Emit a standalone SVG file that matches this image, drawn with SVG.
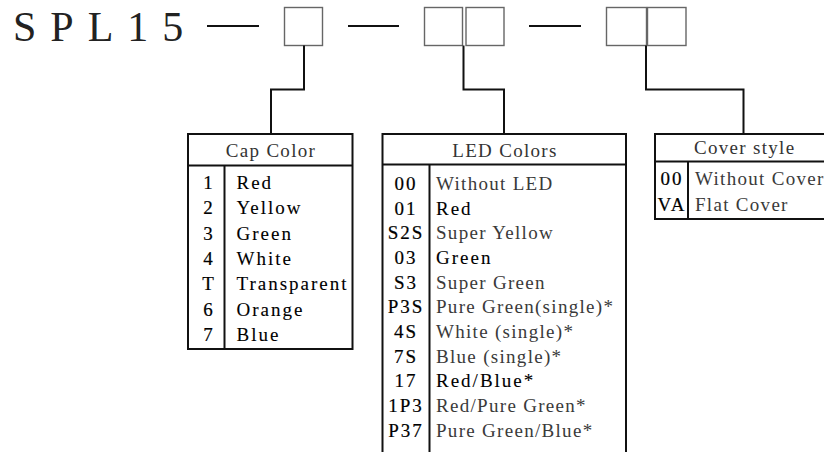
<svg xmlns="http://www.w3.org/2000/svg" width="824" height="452" viewBox="0 0 824 452">
<style>
text{font-family:"Liberation Serif","Times New Roman",serif;}
.title{font-size:42px;letter-spacing:14px;fill:#222;}
.box{fill:#fff;stroke:#666;stroke-width:1.4;}
.dash{stroke:#111;stroke-width:2;}
.conn{fill:none;stroke:#111;stroke-width:2;}
.tbl{fill:none;stroke:#111;stroke-width:2;}
.hd{font-size:19px;fill:#333;letter-spacing:1.3px;}
.lt{font-size:19px;fill:#3a3a3a;letter-spacing:1.3px;}
.dk{font-size:19px;fill:#000;letter-spacing:2px;stroke:#000;stroke-width:0.1;}
.cd{font-size:19px;fill:#000;letter-spacing:2px;text-anchor:middle;stroke:#000;stroke-width:0.2;}
.mid{text-anchor:middle;}
</style>
<rect width="824" height="452" fill="#fff"/>
<g id="title"><text class="title" x="13" y="41">SPL15</text></g>
<g id="dashes">
<line class="dash" x1="207" y1="26" x2="259" y2="26"/>
<line class="dash" x1="348" y1="26" x2="399" y2="26"/>
<line class="dash" x1="529" y1="26" x2="581" y2="26"/>
</g>
<g id="box-cap"><rect class="box" x="284.5" y="7.5" width="38" height="38"/></g>
<g id="box-led"><rect class="box" x="424.5" y="7.5" width="38" height="38"/><rect class="box" x="466" y="7.5" width="38" height="38"/></g>
<g id="box-cover"><rect class="box" x="606.5" y="7.5" width="40" height="38"/><rect class="box" x="647.5" y="7.5" width="38.5" height="38"/></g>
<g id="connectors">
<path class="conn" d="M304 45.5V89.5H271V134"/>
<path class="conn" d="M463.5 45.5V89.5H504V134"/>
<path class="conn" d="M646 45.5V89.5H743.5V134"/>
</g>
<g id="cap-color">
<rect class="tbl" x="188" y="134" width="164.5" height="215"/>
<line class="tbl" x1="188" y1="165.5" x2="352.5" y2="165.5"/>
<line class="tbl" x1="224.5" y1="165.5" x2="224.5" y2="349"/>
<text class="hd mid" x="271" y="157">Cap Color</text>
<text class="cd" x="209" y="189">1</text>
<text class="cd" x="209" y="214.3">2</text>
<text class="cd" x="209" y="239.6">3</text>
<text class="cd" x="209" y="264.9">4</text>
<text class="cd" x="209" y="290.2">T</text>
<text class="cd" x="209" y="315.5">6</text>
<text class="cd" x="209" y="340.8">7</text>
<text class="dk" x="236.5" y="189">Red</text>
<text class="dk" x="236.5" y="214.3">Yellow</text>
<text class="dk" x="236.5" y="239.6">Green</text>
<text class="dk" x="236.5" y="264.9">White</text>
<text class="dk" x="236.5" y="290.2">Transparent</text>
<text class="dk" x="236.5" y="315.5">Orange</text>
<text class="dk" x="236.5" y="340.8">Blue</text>
</g>
<g id="led-colors">
<path class="tbl" d="M382.5 460V134H626V460"/>
<line class="tbl" x1="382.5" y1="164.5" x2="626" y2="164.5"/>
<line class="tbl" x1="429.5" y1="164.5" x2="429.5" y2="460"/>
<text class="hd mid" x="505" y="157">LED Colors</text>
<text class="cd" x="406" y="190">00</text>
<text class="cd" x="406" y="214.7">01</text>
<text class="cd" x="406" y="239.3">S2S</text>
<text class="cd" x="406" y="264">03</text>
<text class="cd" x="406" y="288.7">S3</text>
<text class="cd" x="406" y="313.3">P3S</text>
<text class="cd" x="406" y="338">4S</text>
<text class="cd" x="406" y="362.7">7S</text>
<text class="cd" x="406" y="387.3">17</text>
<text class="cd" x="406" y="412">1P3</text>
<text class="cd" x="406" y="436.7">P37</text>
<text class="lt" x="436" y="190">Without LED</text>
<text class="dk" x="436" y="214.7">Red</text>
<text class="lt" x="436" y="239.3">Super Yellow</text>
<text class="dk" x="436" y="264">Green</text>
<text class="lt" x="436" y="288.7">Super Green</text>
<text class="lt" x="436" y="313.3">Pure Green(single)*</text>
<text class="lt" x="436" y="338">White (single)*</text>
<text class="lt" x="436" y="362.7">Blue (single)*</text>
<text class="dk" x="436" y="387.3">Red/Blue*</text>
<text class="lt" x="436" y="412">Red/Pure Green*</text>
<text class="lt" x="436" y="436.7">Pure Green/Blue*</text>
</g>
<g id="cover-style">
<rect class="tbl" x="655" y="134" width="180" height="85"/>
<line class="tbl" x1="655" y1="161.5" x2="835" y2="161.5"/>
<line class="tbl" x1="688" y1="161.5" x2="688" y2="219"/>
<text class="hd" x="694" y="153.5">Cover style</text>
<text class="cd" x="672" y="184.5">00</text>
<text class="cd" x="672" y="210.5">VA</text>
<text class="lt" x="695" y="184.5">Without Cover</text>
<text class="lt" x="695" y="210.5">Flat Cover</text>
</g>
</svg>
